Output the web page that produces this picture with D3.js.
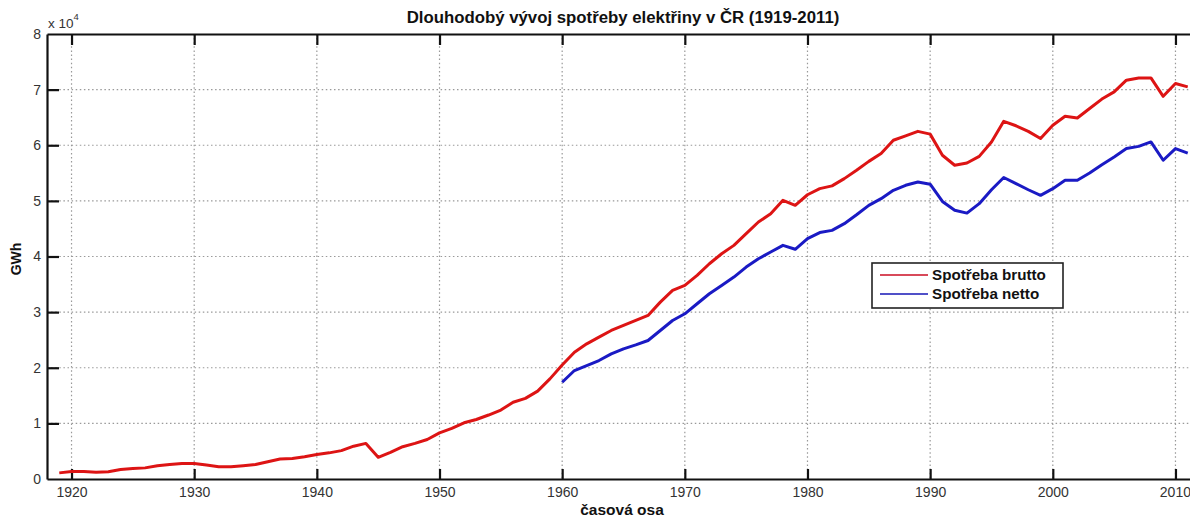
<!DOCTYPE html>
<html>
<head>
<meta charset="utf-8">
<script src="https://cdn.jsdelivr.net/npm/d3@7"></script>
<style>
  html, body { margin: 0; padding: 0; background: #fff; }
  svg { display: block; font-family: "Liberation Sans", Arial, sans-serif; }
</style>
</head>
<body>
<svg id="chart" width="1190" height="517"></svg>
<script>
// Roky a spotřeba elektřiny v GWh
const years = d3.range(1919, 2012);
const brutto = [
  1100, 1330, 1330, 1200, 1300, 1700, 1900, 2000, 2400, 2600,
  2800, 2800, 2500, 2200, 2200, 2400, 2600, 3100, 3600, 3700,
  4000, 4400, 4700, 5100, 5900, 6400, 3900, 4800, 5800, 6400,
  7100, 8300, 9100, 10100, 10700, 11500, 12400, 13800, 14500, 15800,
  18000, 20500, 22800, 24300, 25500, 26700, 27600, 28500, 29400, 31800,
  33900, 34800, 36600, 38700, 40500, 42000, 44100, 46200, 47700, 50100,
  49200, 51100, 52200, 52700, 54000, 55500, 57100, 58500, 60900, 61700,
  62500, 62000, 58200, 56400, 56800, 58000, 60600, 64300, 63500, 62500,
  61200, 63600, 65200, 64900, 66600, 68300, 69600, 71700, 72100, 72100,
  68800, 71100, 70500
];
const nettoYears = d3.range(1960, 2012);
const netto = [
  17400, 19500, 20400, 21300, 22500, 23400, 24100, 24900, 26700, 28500,
  29700, 31500, 33300, 34800, 36300, 38100, 39600, 40800, 42000, 41300,
  43200, 44300, 44700, 45900, 47500, 49200, 50400, 51900, 52800, 53400,
  53000, 49900, 48300, 47800, 49500, 52000, 54200, 53100, 52000, 51000,
  52200, 53700, 53700, 55000, 56500, 57900, 59400, 59800, 60600, 57300,
  59400, 58600
];
const xTicks = [1920, 1930, 1940, 1950, 1960, 1970, 1980, 1990, 2000, 2010];
const yTicks = [0, 10000, 20000, 30000, 40000, 50000, 60000, 70000, 80000];

const svg = d3.select("#chart");
const plotLeft = 47, plotTop = 34, plotBottom = 479, plotRight = 1200;

const x = d3.scaleLinear().domain([1918, 2012]).range([plotLeft, plotRight]);
const y = d3.scaleLinear().domain([0, 80000]).range([plotBottom, plotTop]);

const inkText = "#333";

// Mřížka
const grid = svg.append("g").attr("stroke", "#999").attr("stroke-width", 1.2)
  .attr("stroke-dasharray", "1.5,2.6");
grid.selectAll("line.v").data(xTicks).join("line").attr("class", "v")
  .attr("x1", d => x(d)).attr("x2", d => x(d))
  .attr("y1", plotTop).attr("y2", plotBottom);
grid.selectAll("line.h").data(yTicks.slice(1, -1)).join("line").attr("class", "h")
  .attr("x1", plotLeft).attr("x2", plotRight)
  .attr("y1", d => y(d)).attr("y2", d => y(d));

// Osy
const xAxisB = d3.axisBottom(x).tickValues(xTicks).tickSizeInner(-10).tickSizeOuter(0).tickPadding(8)
  .tickFormat(d3.format("d"));
const gx = svg.append("g").attr("transform", `translate(0,${plotBottom})`).call(xAxisB);
const xAxisT = d3.axisTop(x).tickValues(xTicks).tickSizeInner(-11).tickSizeOuter(0).tickFormat("");
const gxt = svg.append("g").attr("transform", `translate(0,${plotTop})`).call(xAxisT);
const yAxisL = d3.axisLeft(y).tickValues(yTicks).tickSizeInner(-12).tickSizeOuter(0).tickPadding(6)
  .tickFormat(d => d / 10000);
const gy = svg.append("g").attr("transform", `translate(${plotLeft},0)`).call(yAxisL);

[gx, gxt, gy].forEach(g => {
  g.select(".domain").attr("stroke", "#111").attr("stroke-width", 2.2);
  g.selectAll(".tick line").attr("stroke", "#111").attr("stroke-width", 2.2);
  g.selectAll(".tick text").attr("fill", inkText).attr("font-size", 14)
    .attr("font-family", "Liberation Sans, Arial, sans-serif");
});
gy.selectAll(".tick").filter(d => d === 0 || d === 80000).select("line").remove();
// poslední popisek u pravého okraje posunout dovnitř
gx.selectAll(".tick").filter(d => d === 2010).select("text").attr("text-anchor", "end").attr("dx", 15);

// Řady
const line = d3.line().x(d => x(d[0])).y(d => y(d[1]));
svg.append("path")
  .datum(years.map((yr, i) => [yr, brutto[i]]))
  .attr("fill", "none").attr("stroke", "#dd1414").attr("stroke-width", 3)
  .attr("stroke-linejoin", "round").attr("d", line);
svg.append("path")
  .datum(nettoYears.map((yr, i) => [yr, netto[i]]))
  .attr("fill", "none").attr("stroke", "#1a1ac4").attr("stroke-width", 3)
  .attr("stroke-linejoin", "round").attr("d", line);

// Texty
svg.append("text").attr("x", 623).attr("y", 23).attr("text-anchor", "middle")
  .attr("font-size", 16.8).attr("font-weight", "bold").attr("fill", "#111")
  .text("Dlouhodobý vývoj spotřeby elektřiny v ČR (1919-2011)");
svg.append("text").attr("x", 622).attr("y", 515).attr("text-anchor", "middle")
  .attr("font-size", 15.5).attr("font-weight", "bold").attr("fill", "#111")
  .text("časová osa");
svg.append("text").attr("transform", "translate(21,259) rotate(-90)").attr("text-anchor", "middle")
  .attr("font-size", 14).attr("font-weight", "bold").attr("fill", "#111")
  .text("GWh");
const mult = svg.append("text").attr("x", 48).attr("y", 28).attr("font-size", 13.5).attr("fill", inkText);
mult.append("tspan").text("x 10");
mult.append("tspan").attr("dy", -8).attr("font-size", 9.5).text("4");

// Legenda
const legend = svg.append("g");
legend.append("rect").attr("x", 872).attr("y", 263).attr("width", 191).attr("height", 45)
  .attr("fill", "#fff").attr("stroke", "#222").attr("stroke-width", 1.6);
const legendItems = [
  { label: "Spotřeba brutto", color: "#d84a5a" },
  { label: "Spotřeba netto", color: "#5050c8" }
];
legendItems.forEach((it, i) => {
  const ly = 275 + i * 19;
  legend.append("line").attr("x1", 880).attr("x2", 928).attr("y1", ly).attr("y2", ly)
    .attr("stroke", it.color).attr("stroke-width", 1.8);
  legend.append("text").attr("x", 932).attr("y", ly).attr("dy", "0.35em")
    .attr("font-size", 15.2).attr("font-weight", "bold").attr("fill", "#111").text(it.label);
});
</script>
</body>
</html>
